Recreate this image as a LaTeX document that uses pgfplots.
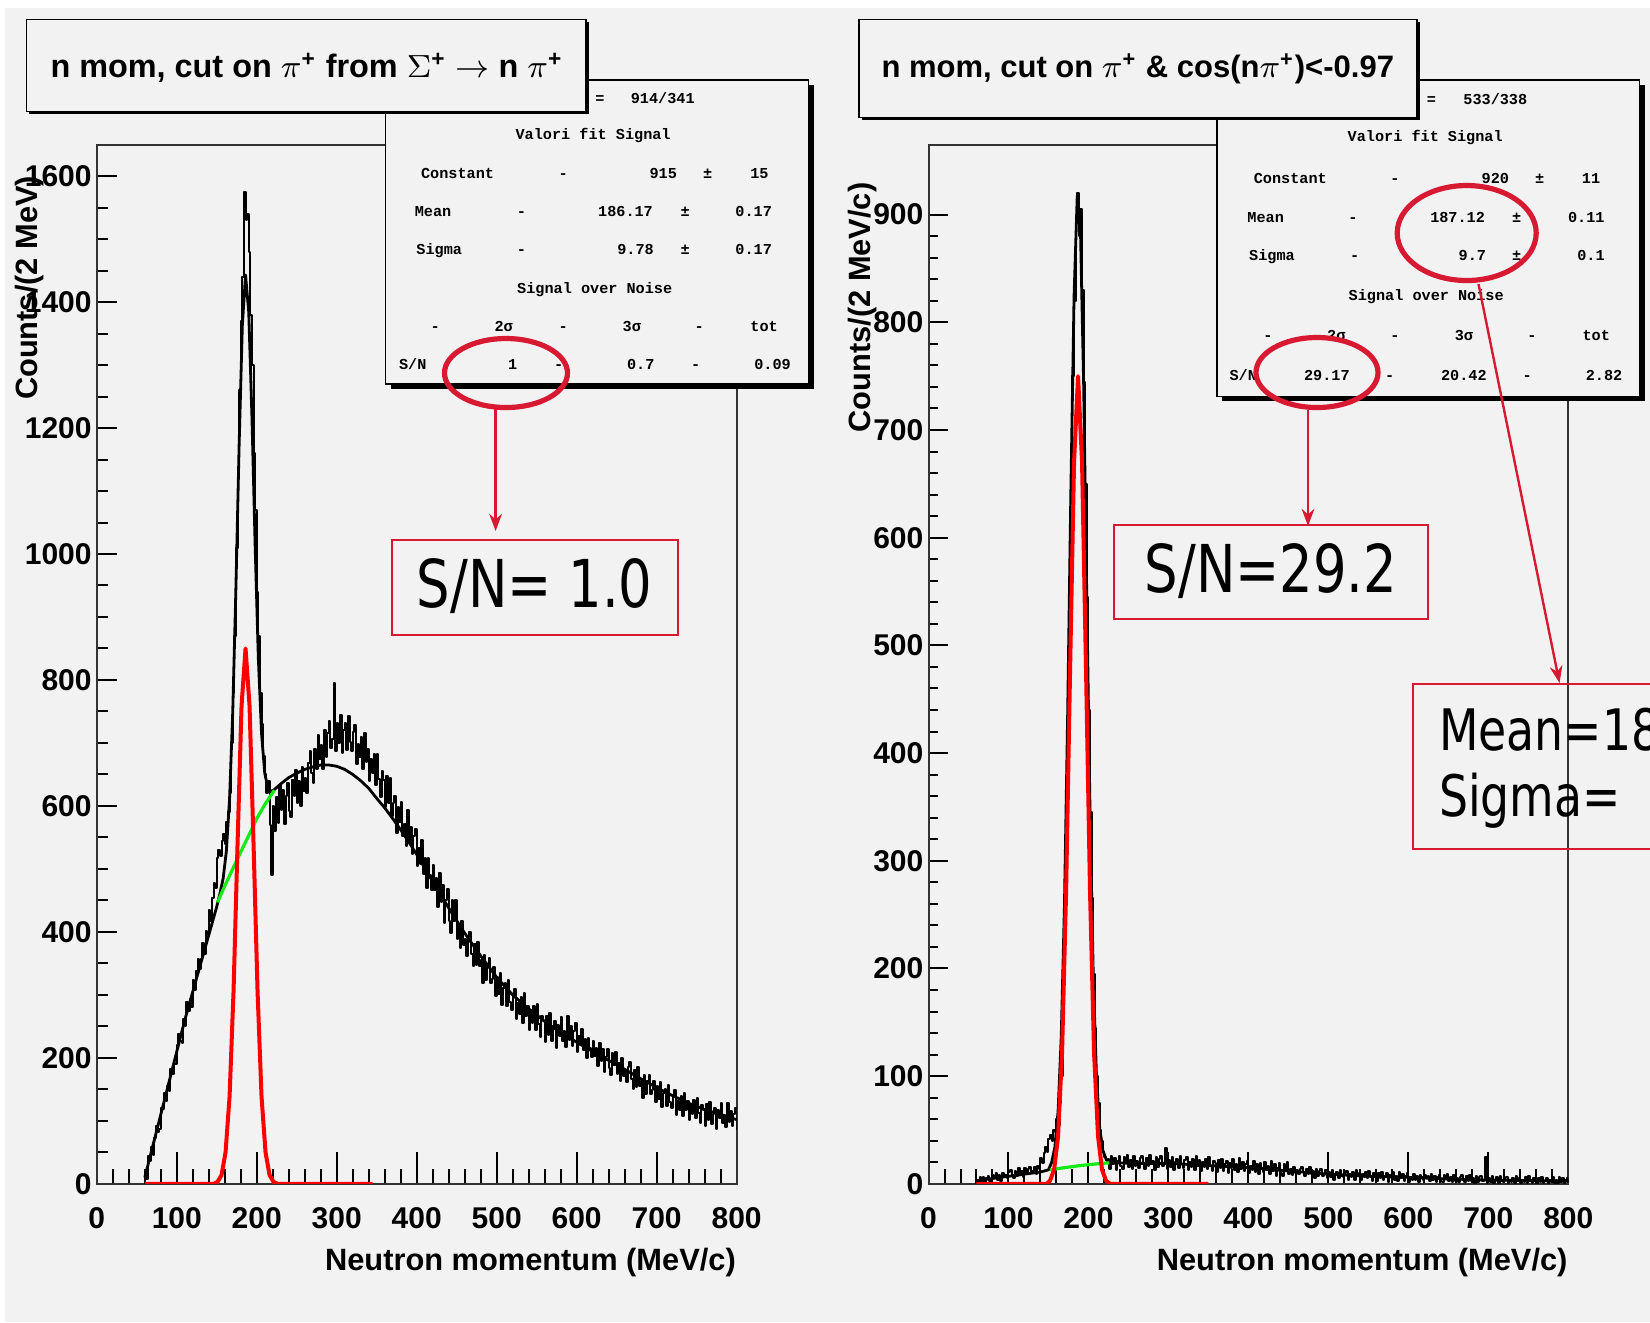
\documentclass[border=0pt]{standalone}
\usepackage{pgfplots}
\pgfplotsset{compat=1.18}
\usetikzlibrary{arrows.meta}
\usepackage{fontspec}
\setmainfont{Liberation Sans}
\newfontfamily\statfont{Liberation Mono}
\newfontfamily\handfont{DejaVu Sans}
\definecolor{bgc}{RGB}{242,242,242}
\definecolor{annred}{RGB}{215,25,50}
\definecolor{fitgreen}{RGB}{20,235,20}

\pgfplotsset{
  rootbase/.style={scale only axis, width=159.95pt, height=259.8pt,
    xmin=0, xmax=800, ymin=0,
    tick align=inside, xtick pos=left, ytick pos=left,
    /pgf/number format/assume math mode=true,
    /pgf/number format/1000 sep={},
    axis line style={draw=black!80, line width=0.5pt},
    every tick/.style={black, line width=0.5pt},
    ticklabel style={font=\bfseries\fontsize{7.5}{9}\selectfont, inner sep=0pt},
    label style={font=\bfseries\fontsize{7.7}{9}\selectfont, inner sep=0pt},
  },
  xonly/.style={rootbase, ytick=\empty,
    xtick={0,100,...,800}, minor x tick num=4,
    major tick length=8pt, minor tick length=3.75pt,
    xticklabel style={anchor=north, yshift=-5.8pt},
    xlabel={Neutron momentum (MeV/c)},
    xlabel style={at={(axis description cs:1,0)}, anchor=east, yshift=-19.75pt}},
  dataax/.style={rootbase, xtick=\empty,
    yticklabel style={anchor=east, xshift=-1.1pt},
    ylabel style={at={(axis description cs:0,1)}, anchor=east}},
  hist/.style={const plot, black, line width=0.5pt, line join=round, mark=none},
  fitl/.style={black, line width=0.7pt, mark=none, line join=round},
  gr/.style={fitgreen, line width=0.8pt, mark=none},
  rd/.style={red, line width=1pt, mark=none, line join=round},
}

\newcommand{\st}[3]{\node[anchor=base, inner sep=0pt, font=\statfont\bfseries\fontsize{3.8}{4}\selectfont] at (#1,#2) {#3};}

\begin{document}
\begin{tikzpicture}
\begin{scope}[x=0.25pt,y=-0.25pt]
\path[use as bounding box] (0,0) rectangle (1650,1322);
\fill[white] (0,0) rectangle (1650,1322);
\fill[bgc] (5,8) rectangle (1650,1322);
\end{scope}

% ---------------- LEFT PANEL ----------------
\begin{axis}[xonly, at={(24.2pt,-295.95pt)}, anchor=south west, ymax=1650]
\end{axis}
\begin{axis}[dataax, at={(24.2pt,-295.95pt)}, anchor=south west, ymax=1650,
  ytick={0,200,...,1600}, minor y tick num=3,
  major tick length=5pt, minor tick length=2.7pt,
  ylabel={Counts/(2 MeV)}, ylabel style={xshift=-7.6pt, yshift=16.9pt}]
\addplot[hist] coordinates {(60,0)(60,16)(62,8)(64,44)(66,36)(68,59)(70,45)(72,73)(74,92)(76,83)(78,87)(80,121)(82,119)(84,145)(86,131)(88,155)(90,147)(92,182)(94,174)(96,192)(98,190)(100,220)(102,238)(104,226)(106,224)(108,262)(110,250)(112,289)(114,274)(116,294)(118,280)(120,324)(122,308)(124,338)(126,357)(128,341)(130,357)(132,383)(134,365)(136,401)(138,396)(140,435)(142,417)(144,454)(146,478)(148,470)(150,518)(152,530)(154,520)(156,545)(158,555)(160,540)(162,575)(164,590)(166,620)(168,700)(170,780)(172,870)(174,1010)(176,1120)(178,1260)(180,1370)(182,1440)(184,1575)(186,1530)(188,1540)(190,1480)(192,1380)(194,1300)(196,1160)(198,1070)(200,940)(202,870)(204,780)(206,730)(208,680)(210,650)(212,620)(214,640)(216,570)(218,490)(220,600)(222,560)
(224,614)(226,573)(228,634)(230,593)(232,626)(234,571)(236,615)(238,637)(240,592)(242,582)(244,641)(246,615)(248,657)(250,604)(252,639)(254,600)(256,662)(258,623)(260,644)(262,620)(264,668)(266,687)(268,653)(270,637)(272,691)(274,658)(276,713)(278,675)(280,697)(282,658)(284,721)(286,678)(288,716)(290,735)(292,692)(294,706)(296,795)(298,687)(300,731)(302,700)(304,744)(306,684)(308,720)(310,732)(312,689)(314,743)(316,701)(318,687)(320,717)(322,729)(324,667)(326,699)(328,677)(330,709)(332,658)(334,716)(336,670)(338,690)(340,640)(342,675)
(344,652)(346,683)(348,633)(350,683)(352,643)(354,614)(356,656)(358,641)(360,599)(362,648)(364,605)(366,644)(368,584)(370,605)(372,616)(374,557)(376,598)(378,574)(380,607)(382,553)(384,572)(386,537)(388,594)(390,543)(392,567)(394,524)(396,552)(398,564)(400,504)(402,533)(404,508)(406,546)(408,492)(410,518)(412,469)(414,517)(416,491)(418,466)(420,506)(422,467)
(424,485)(426,439)(428,494)(430,448)(432,474)(434,414)(436,451)(438,468)(440,418)(442,399)(444,450)(446,417)(448,450)(450,389)(452,413)(454,375)(456,417)(458,379)(460,388)(462,362)(464,392)(466,400)(468,365)(470,346)(472,381)(474,347)(476,384)(478,346)(480,356)(482,319)(484,364)(486,324)(488,349)(490,359)(492,319)(494,325)(496,344)(498,299)(500,328)(502,302)(504,335)(506,284)(508,311)(510,319)(512,282)(514,324)(516,289)(518,276)(520,300)(522,310)(524,261)(526,287)(528,270)(530,296)(532,256)(534,303)(536,266)(538,283)(540,244)(542,273)
(544,256)(546,282)(548,244)(550,286)(552,254)(554,233)(556,267)(558,258)(560,225)(562,267)(564,237)(566,271)(568,226)(570,246)(572,259)(574,215)(576,252)(578,235)(580,265)(582,226)(584,243)(586,218)(588,266)(590,228)(592,250)(594,219)(596,243)(598,256)(600,210)(602,235)(604,220)(606,246)(608,212)(610,230)(612,199)(614,231)(616,215)(618,201)(620,227)(622,203)
(624,216)(626,187)(628,224)(630,195)(632,214)(634,177)(636,202)(638,214)(640,184)(642,173)(644,207)(646,188)(648,210)(650,174)(652,192)(654,163)(656,199)(658,171)(660,180)(662,161)(664,185)(666,193)(668,167)(670,151)(672,180)(674,154)(676,185)(678,155)(680,164)(682,137)(684,173)(686,143)(688,164)(690,173)(692,143)(694,149)(696,164)(698,130)(700,155)(702,134)(704,162)(706,122)(708,144)(710,151)(712,123)(714,157)(716,130)(718,121)(720,140)(722,149)(724,110)(726,131)(728,118)(730,139)(732,108)(734,145)(736,118)(738,131)(740,101)(742,125)
(744,111)(746,133)(748,104)(750,137)(752,113)(754,96)(756,125)(758,117)(760,92)(762,126)(764,102)(766,130)(768,95)(770,111)(772,121)(774,87)(776,117)(778,104)(780,128)(782,97)(784,110)(786,91)(788,129)(790,98)(792,116)(794,92)(796,111)(798,120)(800,85)};
\addplot[fitl] coordinates {(60,10)(70,60)(80,110)(90,160)(100,210)(110,260)(120,305)(130,350)(140,395)(150,440)(154,461)(158,485)(162,528)(166,611)(170,750)(174,949)(178,1175)(182,1363)(186,1443)(190,1384)(194,1217)(198,1013)(202,834)(206,715)(210,652)(214,628)(218,623)(222,626)(230,635)(240,645)(250,652)(260,658)(270,662)(280,665)(290,665)(300,663)(310,658)(320,650)(330,640)(340,628)(350,612)(360,597)(370,580)(380,562)(390,543)(400,523)(420,480)(440,438)(460,398)(480,362)(500,328)(520,300)(540,278)(560,258)(580,240)(600,225)(620,210)(640,196)(660,182)(680,167)(700,153)(720,140)(740,128)(760,118)(780,110)(800,102)};
\addplot[gr] coordinates {(151,447)(160,473)(170,500)(180,527)(190,553)(200,580)(210,602)(222,625)};
\addplot[rd] coordinates {(60,0)(146,0)(151,3)(156,14)(161,50)(166,138)(171,306)(176,540)(181,759)(186,850)(191,759)(196,540)(201,306)(206,138)(211,50)(216,14)(221,3)(226,0)(345,0)};
\end{axis}

% ---------------- RIGHT PANEL ----------------
\begin{axis}[xonly, at={(232.125pt,-295.95pt)}, anchor=south west, ymax=965]
\end{axis}
\begin{axis}[dataax, at={(232.125pt,-295.95pt)}, anchor=south west, ymax=965,
  ytick={0,100,...,900}, minor y tick num=4,
  major tick length=4.75pt, minor tick length=2.3pt,
  ylabel={Counts/(2 MeV/c)}, ylabel style={xshift=-9.3pt, yshift=16.4pt}]
\addplot[hist] coordinates {(60,0)(60,3)(62,0)(64,6)(66,2)(68,6)(70,0)(72,5)(74,7)(76,3)(78,1)(80,8)(82,5)(84,10)(86,4)(88,8)(90,3)(92,10)(94,6)(96,8)(98,5)(100,11)(102,13)(104,8)(106,5)(108,12)(110,7)(112,15)(114,9)(116,12)(118,6)(120,15)(122,9)(124,14)(126,16)(128,10)(130,12)(132,16)(134,9)(136,17)(138,14)(140,24)(142,19)(144,29)(146,34)(148,30)(150,42)(152,45)(154,40)(156,50)(158,48)(160,60)(162,55)(164,75)(166,100)(168,150)(170,240)(172,330)(174,430)(176,540)(178,640)(180,750)(182,820)(184,900)(186,920)(188,880)(190,905)(192,830)(194,745)(196,650)(198,545)(200,440)(202,345)(204,265)(206,195)(208,145)(210,100)(212,75)(214,50)(216,40)(218,30)(220,25)(222,22)
(224,23)(226,14)(228,26)(230,18)(232,24)(234,13)(236,21)(238,26)(240,17)(242,14)(244,25)(246,19)(248,27)(250,16)(252,22)(254,14)(256,26)(258,17)(260,21)(262,15)(264,24)(266,26)(268,19)(270,14)(272,24)(274,17)(276,27)(278,18)(280,21)(282,13)(284,25)(286,16)(288,23)(290,26)(292,17)(294,19)(296,33)(298,14)(300,22)(302,16)(304,25)(306,13)(308,20)(310,23)(312,15)(314,26)(316,18)(318,15)(320,22)(322,25)(324,13)(326,20)(328,16)(330,23)(332,13)(334,26)(336,17)(338,22)(340,12)(342,20)
(344,16)(346,23)(348,14)(350,25)(352,17)(354,12)(356,21)(358,19)(360,11)(362,22)(364,15)(366,23)(368,12)(370,18)(372,21)(374,10)(376,19)(378,15)(380,23)(382,13)(384,18)(386,11)(388,24)(390,14)(392,20)(394,12)(396,18)(398,21)(400,10)(402,17)(404,13)(406,21)(408,11)(410,18)(412,9)(414,19)(416,15)(418,11)(420,20)(422,13)(424,17)(426,9)(428,21)(430,12)(432,18)(434,7)(436,15)(438,19)(440,10)(442,7)(444,18)(446,13)(448,20)(450,9)
(452,14)(454,8)(456,16)(458,10)(460,13)(462,9)(464,14)(466,16)(468,11)(470,7)(472,14)(474,9)(476,16)(478,9)(480,12)(482,5)(484,14)(486,7)(488,12)(490,14)(492,7)(494,9)(496,13)(498,5)(500,11)(502,6)(504,13)(506,4)(508,9)(510,11)(512,5)(514,13)(516,7)(518,6)(520,10)(522,12)(524,4)(526,9)(528,6)(530,11)(532,4)(534,13)(536,7)(538,10)(540,4)(542,9)(544,6)(546,11)(548,5)(550,12)(552,7)(554,3)(556,10)(558,8)(560,3)(562,10)(564,5)(566,11)(568,4)(570,7)(572,10)(574,2)(576,8)(578,6)(580,11)(582,4)(584,7)(586,3)(588,11)(590,5)(592,9)(594,3)(596,7)(598,10)(600,2)
(602,6)(604,4)(606,9)(608,4)(610,7)(612,2)(614,8)(616,6)(618,4)(620,8)(622,5)(624,7)(626,3)(628,9)(630,4)(632,7)(634,2)(636,6)(638,8)(640,3)(642,2)(644,8)(646,5)(648,9)(650,3)(652,6)(654,2)(656,8)(658,3)(660,5)(662,2)(664,6)(666,8)(668,4)(670,2)(672,7)(674,3)(676,8)(678,3)(680,5)(682,1)(684,7)(686,2)(688,6)(690,7)(692,3)(694,4)(696,25)(698,1)(700,5)(702,2)(704,7)(706,1)(708,4)(710,6)(712,1)(714,7)(716,3)(718,2)(720,5)(722,6)(724,1)(726,4)(728,2)(730,5)(732,1)(734,7)(736,3)(738,5)(740,1)(742,4)(744,2)(746,6)(748,1)(750,7)(752,3)(754,1)(756,5)(758,4)(760,0)(762,5)(764,2)(766,6)(768,1)(770,3)(772,5)(774,0)(776,4)(778,2)(780,6)(782,1)(784,4)(786,1)(788,6)(790,2)(792,5)(794,1)(796,4)(798,5)(800,1)};
\addplot[fitl] coordinates {(60,3)(80,5)(100,7)(120,9)(140,11)(150,13)(154,20)(158,34)(162,67)(166,137)(170,259)(174,436)(178,643)(182,824)(186,918)(190,886)(194,742)(198,541)(202,344)(206,194)(210,101)(214,52)(218,31)(222,23)(226,19.5)(260,19)(300,19)(350,17)(400,15)(450,12)(500,9)(550,7)(600,6)(650,4.5)(700,3.5)(750,3)(800,2.5)};
\addplot[gr] coordinates {(152,13)(170,15)(190,17)(210,18.5)(226,19.5)};
\addplot[rd] coordinates {(60,0)(148,0)(152,3)(157,13)(162,44)(167,122)(172,270)(177,476)(182,670)(187,750)(192,670)(197,476)(202,270)(207,122)(212,44)(217,13)(222,3)(227,0)(350,0)};
\end{axis}

% ---------------- BOXES AND ANNOTATIONS ----------------
\begin{scope}[x=0.25pt,y=-0.25pt]
\clip (0,0) rectangle (1650,1322);
% left stats box
\fill[black] (390.5,85) rectangle (814.3,388.5);
\filldraw[fill=bgc, draw=black, line width=0.35pt] (385.5,80) rectangle (808.6,384);
\st{599.9}{103}{=}\st{662.7}{103}{914/341}
\st{593.1}{139}{Valori fit Signal}
\st{457.6}{178.3}{Constant}\st{563.3}{178.3}{-}\st{663.2}{178.3}{915}\st{707.6}{178.3}{±}\st{759.4}{178.3}{15}
\st{433}{216.3}{Mean}\st{521.4}{216.3}{-}\st{625.5}{216.3}{186.17}\st{685.1}{216.3}{±}\st{753.7}{216.3}{0.17}
\st{439.3}{254.3}{Sigma}\st{521.4}{254.3}{-}\st{635.5}{254.3}{9.78}\st{685.1}{254.3}{±}\st{753.7}{254.3}{0.17}
\st{594.7}{293}{Signal over Noise}
\st{435.1}{331.7}{-}\st{503.7}{331.7}{2σ}\st{563.3}{331.7}{-}\st{631.8}{331.7}{3σ}\st{699.3}{331.7}{-}\st{764.1}{331.7}{tot}
\st{412.7}{369.7}{S/N}\st{512.6}{369.7}{1}\st{558.6}{369.7}{-}\st{640.7}{369.7}{0.7}\st{695.6}{369.7}{-}\st{772.5}{369.7}{0.09}
% right stats box
\fill[black] (1222,85) rectangle (1644.5,401);
\filldraw[fill=bgc, draw=black, line width=0.35pt] (1217,80) rectangle (1639.6,396.7);
\st{1431.5}{104}{=}\st{1495.3}{104}{533/338}
\st{1425.2}{141.7}{Valori fit Signal}
\st{1290.3}{183}{Constant}\st{1394.9}{183}{-}\st{1495.3}{183}{920}\st{1539.7}{183}{±}\st{1591}{183}{11}
\st{1265.7}{222.7}{Mean}\st{1353}{222.7}{-}\st{1457.6}{222.7}{187.12}\st{1516.7}{222.7}{±}\st{1586.3}{222.7}{0.11}
\st{1272}{260.7}{Sigma}\st{1354.6}{260.7}{-}\st{1472.3}{260.7}{9.7}\st{1516.7}{260.7}{±}\st{1591}{260.7}{0.1}
\st{1426.2}{300.7}{Signal over Noise}
\st{1267.8}{340.7}{-}\st{1336.3}{340.7}{2σ}\st{1394.9}{340.7}{-}\st{1463.9}{340.7}{3σ}\st{1531.9}{340.7}{-}\st{1596.2}{340.7}{tot}
\st{1243.2}{380}{S/N}\st{1326.9}{380}{29.17}\st{1389.6}{380}{-}\st{1463.9}{380}{20.42}\st{1527.2}{380}{-}\st{1604.1}{380}{2.82}
% title boxes
\fill[black] (29.2,22.3) rectangle (588.8,114.3);
\filldraw[fill=bgc, draw=black, line width=0.35pt] (26.2,19.3) rectangle (585.8,111.3);
\node[anchor=base west, inner sep=0pt, font=\bfseries\fontsize{8.1}{10}\selectfont] at (49.7,77.3)
  {n mom, cut on $\pi$\textsuperscript{+} from $\Sigma$\textsuperscript{+} $\rightarrow$ n $\pi$\textsuperscript{+}};
\fill[black] (861.8,22.3) rectangle (1419.8,120.3);
\filldraw[fill=bgc, draw=black, line width=0.35pt] (858.8,19.3) rectangle (1416.8,117.3);
\node[anchor=base west, inner sep=0pt, font=\bfseries\fontsize{7.75}{10}\selectfont] at (880.7,77.3)
  {n mom, cut on $\pi$\textsuperscript{+} \& cos(n$\pi$\textsuperscript{+})<-0.97};
% red annotations
\draw[annred, line width=1.3pt] (506,373) ellipse [x radius=61.5, y radius=34.5];
\draw[annred, line width=0.6pt, -{Stealth[length=4.3pt, width=3.2pt]}] (495.6,408) -- (495.6,531);
\draw[annred, line width=0.5pt] (391.5,539.8) rectangle (677.7,634.5);
\node[inner sep=0pt, font=\handfont\fontsize{16.5}{18}\selectfont] at (534.6,586.1) {\scalebox{0.8}[1]{S/N= 1.0}};

\draw[annred, line width=1.3pt] (1317,372.5) ellipse [x radius=61, y radius=35];
\draw[annred, line width=0.6pt, -{Stealth[length=4.3pt, width=3.2pt]}] (1308,410) -- (1308,526);
\draw[annred, line width=0.5pt] (1114.4,525.1) rectangle (1428,618.8);
\node[inner sep=0pt, font=\handfont\fontsize{16.5}{18}\selectfont] at (1271,571.4) {\scalebox{0.8}[1]{S/N=29.2}};

\draw[annred, line width=1.3pt] (1466.7,233) ellipse [x radius=69.5, y radius=47.5];
\draw[annred, line width=0.6pt, -{Stealth[length=4.3pt, width=3.2pt]}] (1478.5,284) -- (1559.5,683);
\draw[annred, line width=0.5pt] (1413.2,684) rectangle (1700,849);
\node[anchor=base west, inner sep=0pt, font=\handfont\fontsize{14.3}{16}\selectfont] at (1438.3,750) {\scalebox{0.8}[1]{Mean=187.1}};
\node[anchor=base west, inner sep=0pt, font=\handfont\fontsize{14.3}{16}\selectfont] at (1438.3,816.7) {\scalebox{0.8}[1]{Sigma=}};
\end{scope}
\end{tikzpicture}
\end{document}
